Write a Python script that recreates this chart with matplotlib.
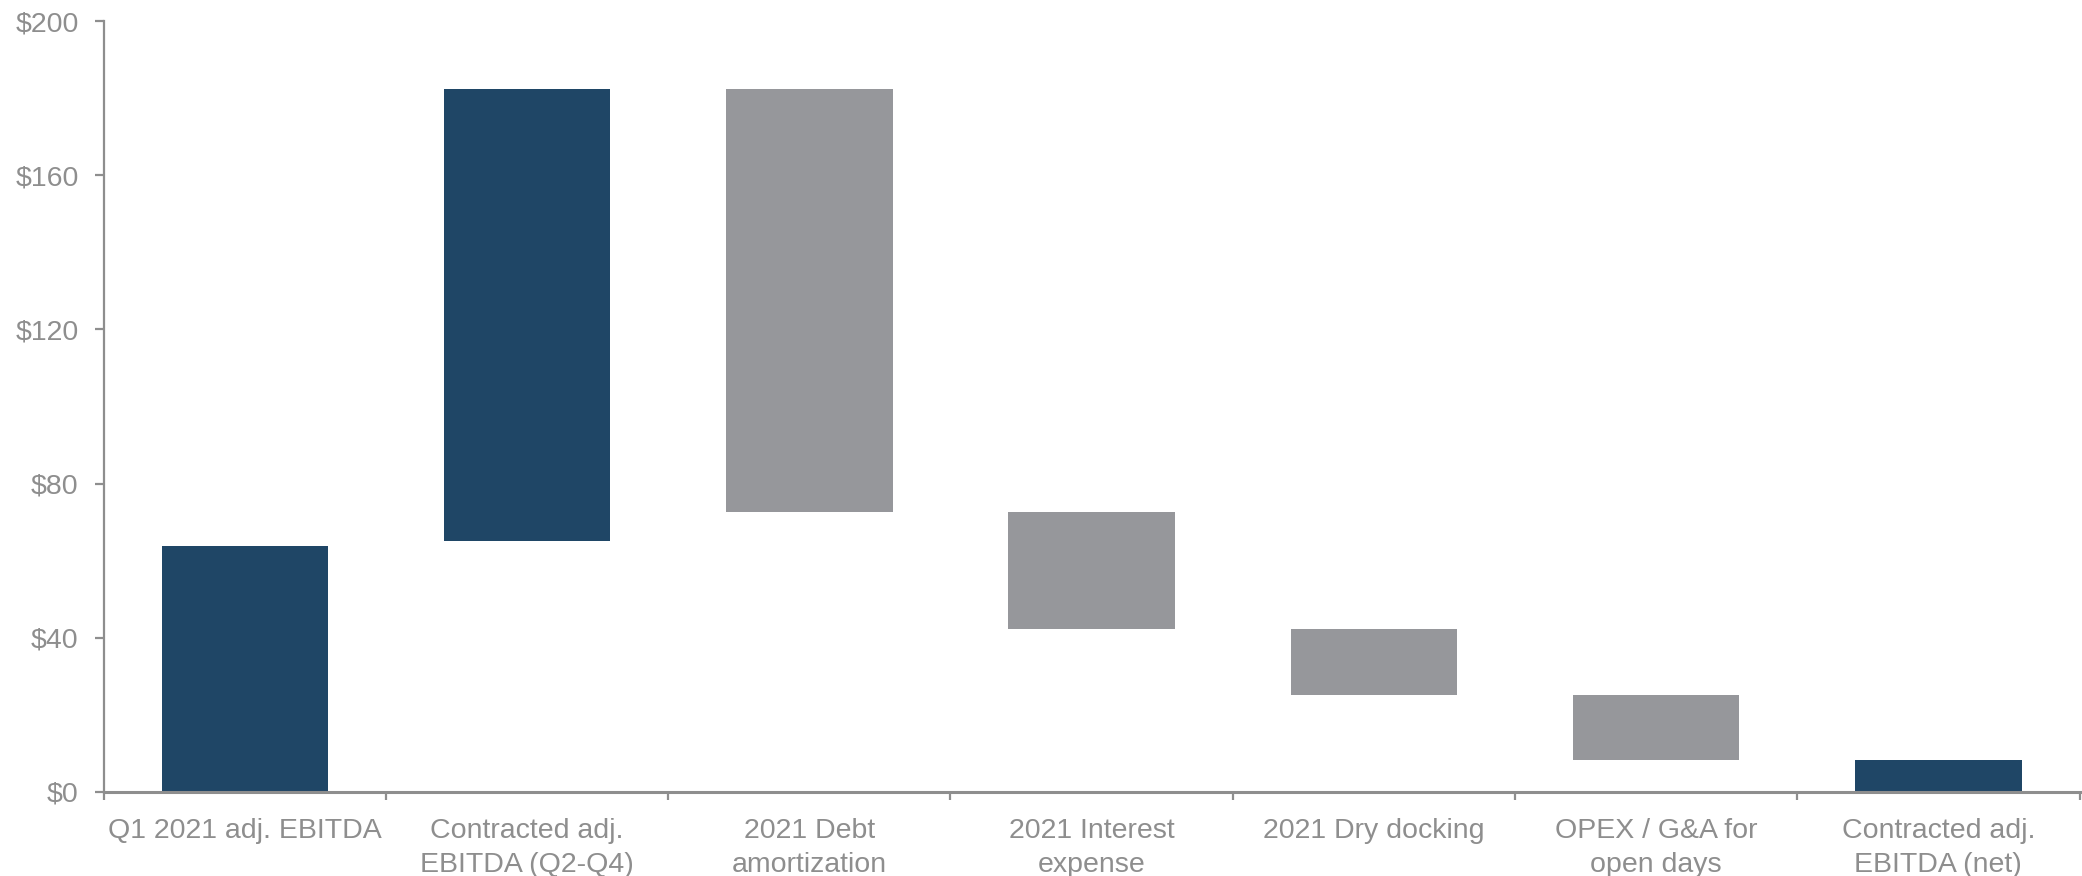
import numpy as np
import matplotlib.pyplot as plt
from matplotlib.ticker import FuncFormatter

plt.rcParams['font.family'] = ['Liberation Sans', 'DejaVu Sans']

categories = [
    'Q1 2021 adj. EBITDA',
    'Contracted adj.\nEBITDA (Q2-Q4)',
    '2021 Debt\namortization',
    '2021 Interest\nexpense',
    '2021 Dry docking',
    'OPEX / G&A for\nopen days',
    'Contracted adj.\nEBITDA (net)',
]
# floating bar extents ($M)
bar_low = [0.0, 65.0, 72.7, 42.3, 25.1, 8.3, 0.0]
bar_high = [63.9, 182.4, 182.4, 72.7, 42.3, 25.1, 8.3]
is_total = [True, True, False, False, False, False, True]

NAVY = '#1F4666'
GREY = '#96979B'
AXIS = '#8E8E8E'

fig = plt.figure(figsize=(20.82, 8.76), dpi=100)
ax = fig.add_axes([0.0498, 0.0959, 0.949, 0.880])

x = np.arange(len(categories))
heights = np.array(bar_high) - np.array(bar_low)
colors = [NAVY if t else GREY for t in is_total]
ax.bar(x, heights, bottom=bar_low, width=0.59, color=colors, edgecolor='none')

ax.set_xlim(-0.5, len(categories) - 0.5)
ax.set_ylim(0, 200)
ax.set_yticks(np.arange(0, 201, 40))
ax.yaxis.set_major_formatter(FuncFormatter(lambda v, p: f'${v:.0f}'))

# boundary ticks between categories, labels centred on the bars
ax.set_xticks(np.arange(-0.5, len(categories), 1.0))
ax.set_xticklabels([])
ax.set_xticks(x, minor=True)
ax.set_xticklabels(categories, minor=True, linespacing=1.37)

for side in ['top', 'right']:
    ax.spines[side].set_visible(False)
for side in ['left', 'bottom']:
    ax.spines[side].set_color(AXIS)
    ax.spines[side].set_linewidth(1.6)
ax.spines['bottom'].set_linewidth(2.2)

ax.tick_params(axis='y', colors=AXIS, labelcolor=AXIS, labelsize=20.5,
               length=6.5, width=1.6, pad=11.5)
ax.tick_params(axis='x', which='major', colors=AXIS, length=6, width=1.6)
ax.tick_params(axis='x', which='minor', length=0, labelcolor=AXIS,
               labelsize=20.5, pad=19)

plt.savefig('out.png', dpi=100)
plt.close()
